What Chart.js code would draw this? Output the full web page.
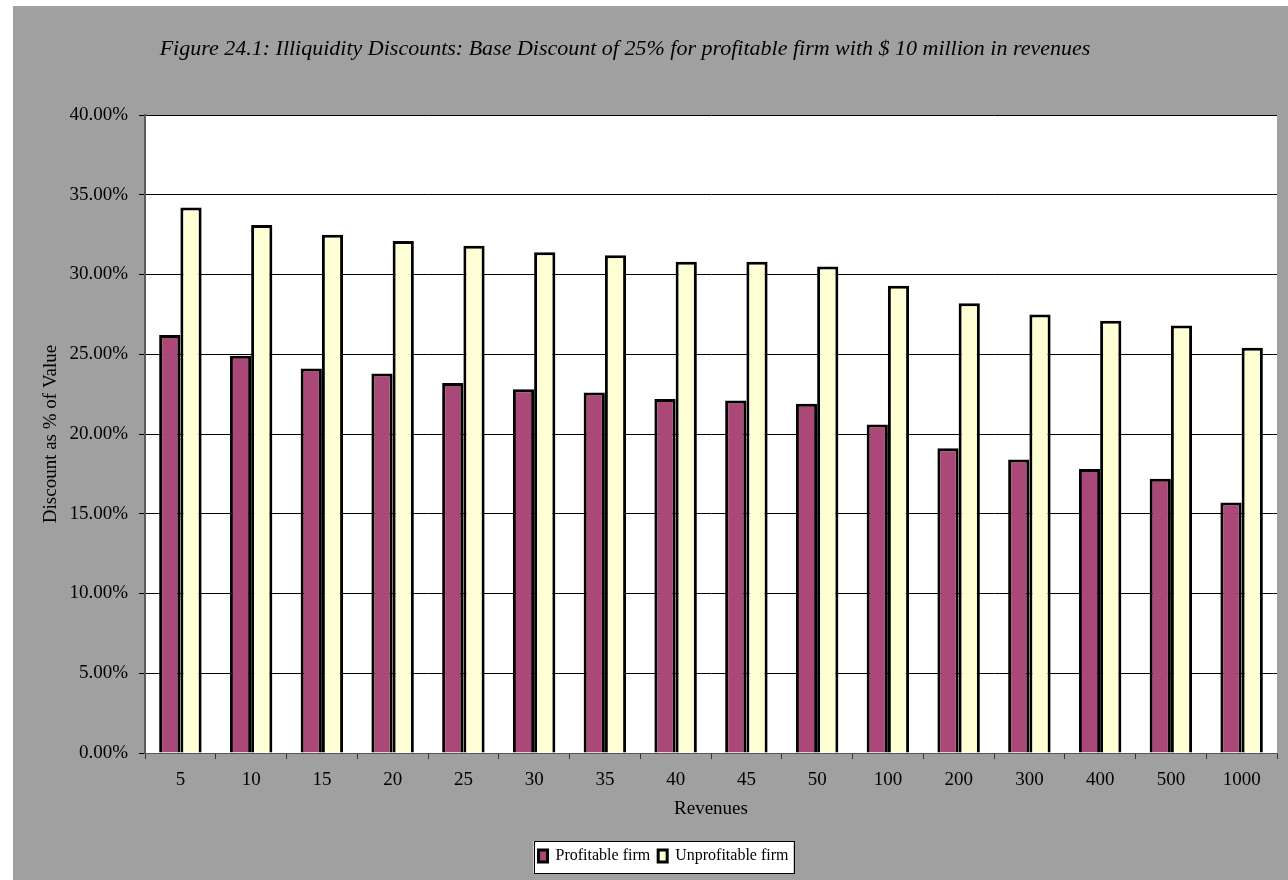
<!DOCTYPE html>
<html>
<head>
<meta charset="utf-8">
<title>Figure 24.1</title>
<script src="https://cdn.jsdelivr.net/npm/chart.js@4.4.1/dist/chart.umd.min.js"></script>
<style>
    html, body { margin: 0; padding: 0; background: #fff; overflow: hidden; }
    #wrap { position: absolute; left: 13px; top: 6px; width: 1275px; height: 874px; }
</style>
</head>
<body>
<div id="wrap"><canvas id="chart" width="1275" height="874"></canvas></div>
<script>
// Data (discount in %)
const revenues = ['5', '10', '15', '20', '25', '30', '35', '40', '45', '50', '100', '200', '300', '400', '500', '1000'];
const profitable = [26.2, 24.9, 24.1, 23.8, 23.2, 22.8, 22.6, 22.2, 22.1, 21.9, 20.6, 19.1, 18.4, 17.8, 17.2, 15.7];
const unprofitable = [34.2, 33.1, 32.5, 32.1, 31.8, 31.4, 31.2, 30.8, 30.8, 30.5, 29.3, 28.2, 27.5, 27.1, 26.8, 25.4];
const seriesNames = ['Profitable firm', 'Unprofitable firm'];
const titleText = 'Figure 24.1: Illiquidity Discounts: Base Discount of 25% for profitable firm with $ 10 million in revenues';

const SERIF = '"Liberation Serif", "Times New Roman", serif';
Chart.defaults.font.family = SERIF;
Chart.defaults.color = '#000';

// gray page, white plot area, boxed legend, italic caption
const backdrop = {
    id: 'backdrop',
    beforeDraw(chart) {
        const ctx = chart.ctx;
        const a = chart.chartArea;
        ctx.save();
        ctx.fillStyle = '#a0a0a0';
        ctx.fillRect(0, 0, chart.width, chart.height);
        ctx.fillStyle = '#fff';
        ctx.fillRect(a.left, a.top, a.right - a.left, a.bottom - a.top);

        const boxes = chart.legend && chart.legend.legendHitBoxes;
        if (boxes && boxes.length) {
            const l = Math.min(...boxes.map(b => b.left)) - 5;
            const r = Math.max(...boxes.map(b => b.left + b.width)) + 5;
            const t = boxes[0].top - 7;
            const h = boxes[0].height + 16;
            ctx.fillStyle = '#fff';
            ctx.fillRect(l, t, r - l, h);
            ctx.strokeStyle = '#000';
            ctx.lineWidth = 1;
            ctx.strokeRect(Math.round(l) + 0.5, Math.round(t) + 0.5, Math.round(r - l), Math.round(h));
        }
        ctx.restore();
    },
    afterDraw(chart) {
        const ctx = chart.ctx;
        ctx.save();
        ctx.font = 'italic 22px ' + SERIF;
        ctx.fillStyle = '#000';
        ctx.textAlign = 'center';
        ctx.textBaseline = 'middle';
        ctx.fillText(titleText, 612, 43.5);
        ctx.restore();
    }
};

new Chart(document.getElementById('chart'), {
    type: 'bar',
    data: {
        labels: revenues,
        datasets: [
            {
                label: seriesNames[0],
                data: profitable,
                backgroundColor: '#aa4878',
                borderColor: '#000',
                borderWidth: 3
            },
            {
                label: seriesNames[1],
                data: unprofitable,
                backgroundColor: '#ffffd6',
                borderColor: '#000',
                borderWidth: 3
            }
        ]
    },
    options: {
        responsive: false,
        animation: false,
        datasets: { bar: { categoryPercentage: 0.6, barPercentage: 1 } },
        layout: { padding: { top: 109, left: 37, right: 11, bottom: 6 } },
        scales: {
            x: {
                afterFit(scale) { scale.height = 87; },
                grid: { drawOnChartArea: false, drawTicks: true, tickLength: 6, color: '#333', offset: true },
                border: { color: '#555', width: 1 },
                ticks: { font: { size: 19 }, padding: 10, color: '#000' },
                title: { display: true, text: 'Revenues', font: { size: 19 }, padding: { top: 0, bottom: 20 }, color: '#000' }
            },
            y: {
                min: 0,
                max: 40,
                afterFit(scale) { scale.width = 95; },
                grid: { color: '#000', lineWidth: 1, tickLength: 6 },
                border: { color: '#5a5a5a', width: 2 },
                ticks: {
                    stepSize: 5,
                    font: { size: 19 },
                    padding: 11,
                    color: '#000',
                    callback: v => v.toFixed(2) + '%'
                },
                title: { display: true, text: 'Discount as % of Value', font: { size: 19 }, padding: { top: -10, bottom: 0 }, color: '#000' }
            }
        },
        plugins: {
            title: { display: false },
            tooltip: { enabled: false },
            legend: {
                position: 'bottom',
                labels: {
                    boxWidth: 9,
                    boxHeight: 12,
                    padding: 8,
                    font: { size: 16 },
                    color: '#000'
                }
            }
        }
    },
    plugins: [backdrop]
});
</script>
</body>
</html>
